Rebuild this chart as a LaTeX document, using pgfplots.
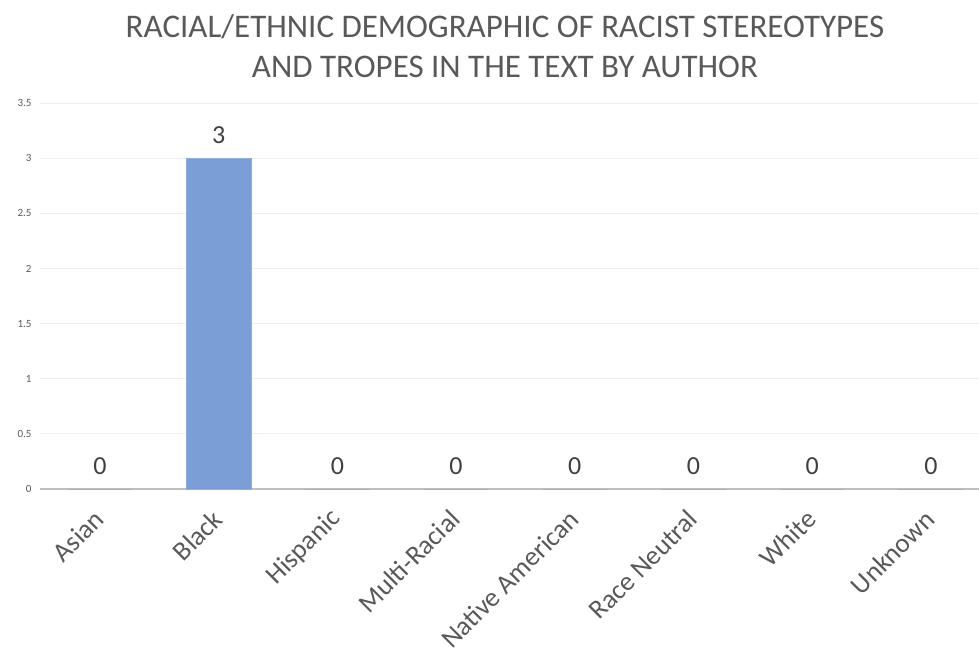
\documentclass[border=0pt]{standalone}
\usepackage{fontspec}
\setmainfont{Carlito}
\usepackage{pgfplots}
\pgfplotsset{compat=1.18}

\definecolor{barblue}{HTML}{7B9ED6}
\definecolor{txtgray}{HTML}{595959}
\definecolor{lblgray}{HTML}{404040}
\definecolor{gridgray}{HTML}{EFEFEF}
\definecolor{basegray}{HTML}{BFBFBF}

\begin{document}
\begin{tikzpicture}
\useasboundingbox (0,0) rectangle (979pt,651pt);
\begin{axis}[
  at={(40pt,162pt)}, anchor=south west,
  scale only axis,
  width=939pt, height=386pt,
  xmin=-0.505, xmax=7.405,
  ymin=0, ymax=3.5,
  ytick={0,0.5,...,3.5},
  xtick={0,...,7},
  xticklabels={Asian,Black,Hispanic,Multi-Racial,Native American,Race Neutral,White,Unknown},
  axis line style={draw=none},
  major tick length=0pt,
  ymajorgrids,
  grid style={gridgray, line width=1pt},
  extra y ticks={0},
  extra y tick labels={},
  extra y tick style={grid style={basegray, line width=1.8pt}},
  /pgf/number format/assume math mode=true,
  yticklabel style={font=\fontsize{11}{13}\selectfont, text=txtgray, xshift=-5pt},
  xticklabel style={font=\fontsize{27}{30}\selectfont, text=txtgray, xshift=0pt, yshift=-25pt, rotate=45, anchor=east, inner sep=1pt},
  ybar, bar width=65pt,
  nodes near coords,
  every node near coord/.append style={font=\fontsize{26}{30}\selectfont, text=lblgray, yshift=11pt},
  /pgf/number format/fixed,
  clip=false,
]
\addplot[fill=barblue, draw=barblue!85!white, line width=0.8pt] coordinates {
  (0,0) (1,3) (2,0) (3,0) (4,0) (5,0) (6,0) (7,0)
};
\end{axis}
\node[anchor=north, align=center, text=txtgray, font=\fontsize{33}{40}\selectfont] at (505pt,640pt)
  {RACIAL/ETHNIC DEMOGRAPHIC OF RACIST STEREOTYPES\\AND TROPES IN THE TEXT BY AUTHOR};
\end{tikzpicture}
\end{document}
